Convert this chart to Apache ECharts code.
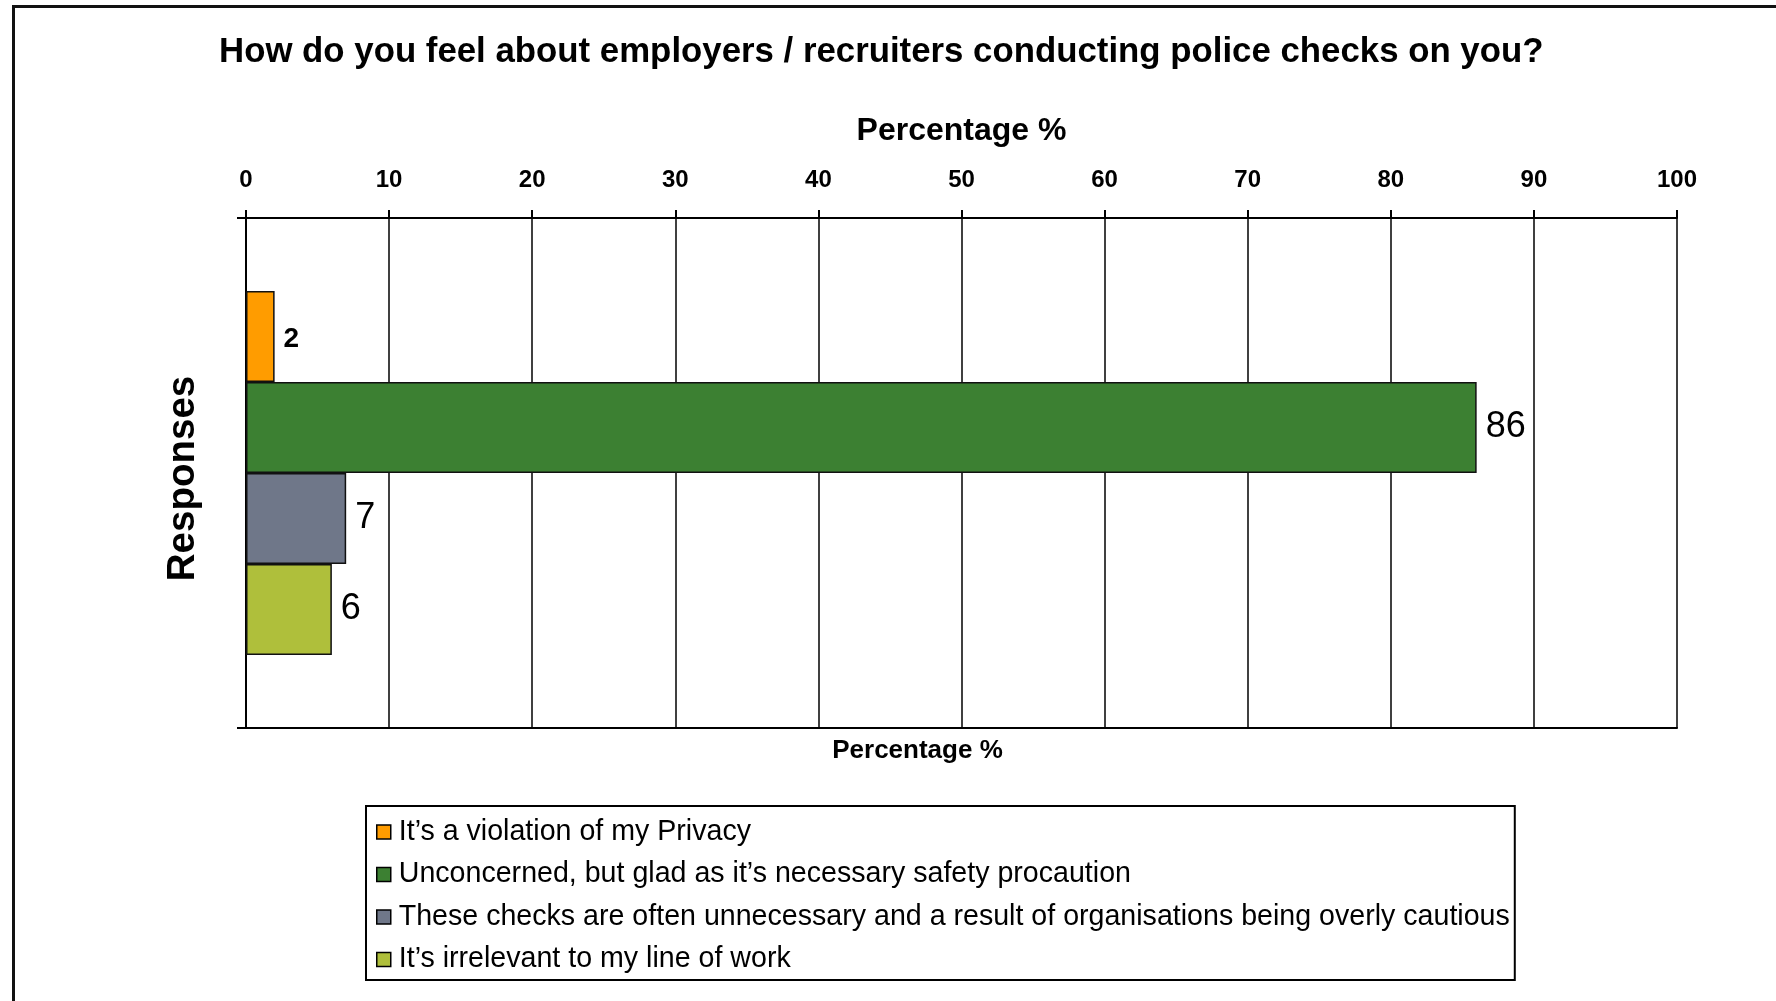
<!DOCTYPE html>
<html>
<head>
<meta charset="utf-8">
<script src="https://cdn.jsdelivr.net/npm/echarts@6/dist/echarts.min.js"></script>
<style>
html, body { margin: 0; padding: 0; background: #fff; }
#main { width: 1776px; height: 1001px; }
</style>
</head>
<body>
<div id="main"></div>
<script>
// chart data
var categories = ['Responses'];
var responseNames = [
    'It\u2019s a violation of my Privacy',
    'Unconcerned, but glad as it\u2019s necessary safety procaution',
    'These checks are often unnecessary and a result of organisations being overly cautious',
    'It\u2019s irrelevant to my line of work'
];
var responseValues = [2, 86, 7, 6];
var axisMin = 0;
var axisMax = 100;
var axisStep = 10;

var palette = ['#ff9c00', '#3c8032', '#6f7789', '#afbf3b'];
var font = '"Liberation Sans", Arial, sans-serif';

var chart = echarts.init(document.getElementById('main'));

var series = [];
responseNames.forEach(function (name, i) {
    var big = i > 0;
    series.push({
        name: name,
        type: 'bar',
        xAxisIndex: 0,
        barGap: '0%',
        barCategoryGap: '28.6%',
        data: [responseValues[i]],
        itemStyle: {
            color: palette[i],
            borderColor: '#111',
            borderWidth: 1.5
        },
        label: {
            show: true,
            position: 'right',
            distance: 9,
            color: '#000',
            fontFamily: font,
            fontSize: big ? 36 : 28,
            fontWeight: big ? 'normal' : 'bold',
            offset: big ? [0, 0] : [0, 3]
        },
        emphasis: { disabled: true }
    });
});

var option = {
    backgroundColor: '#fff',
    animation: false,
    title: {
        text: 'How do you feel about employers / recruiters conducting police checks on you?',
        left: 219,
        top: 35,
        padding: 0,
        textStyle: {
            fontFamily: font,
            fontSize: 34.8,
            fontWeight: 'bold',
            color: '#000'
        }
    },
    legend: {
        orient: 'vertical',
        left: 366,
        top: 806,
        padding: [11.5, 5, 6, 10],
        itemGap: 13.5,
        itemWidth: 14,
        itemHeight: 14,
        icon: 'rect',
        borderColor: '#000',
        borderWidth: 2,
        itemStyle: { borderColor: '#000', borderWidth: 1.5 },
        textStyle: {
            fontFamily: font,
            fontSize: 28.6,
            color: '#000',
            padding: [0, 0, 0, 3]
        },
        data: responseNames
    },
    grid: {
        left: 246,
        right: 99,
        top: 218,
        bottom: 273
    },
    xAxis: [{
        type: 'value',
        position: 'top',
        min: axisMin,
        max: axisMax,
        interval: axisStep,
        name: 'Percentage %',
        nameLocation: 'middle',
        nameGap: 71,
        nameTextStyle: {
            fontFamily: font,
            fontSize: 32,
            fontWeight: 'bold',
            color: '#000'
        },
        axisLine: { show: true, lineStyle: { color: '#000', width: 2 } },
        axisTick: { show: true, length: 8, lineStyle: { color: '#000', width: 2 } },
        axisLabel: {
            margin: 26,
            fontFamily: font,
            fontSize: 24,
            fontWeight: 'bold',
            color: '#000'
        },
        splitLine: { show: true, lineStyle: { color: '#000', width: 1.5 } }
    }, {
        type: 'value',
        position: 'bottom',
        min: axisMin,
        max: axisMax,
        interval: axisStep,
        name: 'Percentage %',
        nameLocation: 'middle',
        nameGap: 10,
        nameTextStyle: {
            fontFamily: font,
            fontSize: 26,
            fontWeight: 'bold',
            color: '#000',
            padding: [0, 88, 0, 0]
        },
        axisLine: { show: true, lineStyle: { color: '#000', width: 2 } },
        axisTick: { show: false },
        axisLabel: { show: false },
        splitLine: { show: false }
    }],
    yAxis: {
        type: 'category',
        data: categories,
        inverse: true,
        name: 'Responses',
        nameLocation: 'middle',
        nameGap: 43,
        nameRotate: 90,
        nameTextStyle: {
            fontFamily: font,
            fontSize: 38.5,
            fontWeight: 'bold',
            color: '#000',
            padding: [0, 11, 0, 0]
        },
        axisLine: { show: true, lineStyle: { color: '#000', width: 2 } },
        axisTick: { show: true, length: 9, lineStyle: { color: '#000', width: 2 } },
        axisLabel: { show: false },
        splitLine: { show: false }
    },
    graphic: [{
        type: 'rect',
        silent: true,
        shape: { x: 13.5, y: 6.5, width: 1900, height: 1100 },
        style: { fill: 'none', stroke: '#111', lineWidth: 3 }
    }],
    series: series
};

chart.setOption(option);
</script>
</body>
</html>
